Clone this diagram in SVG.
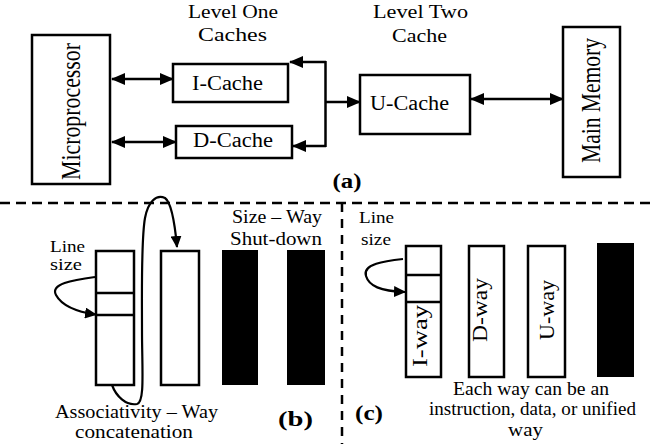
<svg xmlns="http://www.w3.org/2000/svg" width="650" height="444" viewBox="0 0 650 444">
  <defs>
    <marker id="ah" markerUnits="userSpaceOnUse" markerWidth="14" markerHeight="12" viewBox="0 0 14 12" refX="13" refY="6" orient="auto-start-reverse">
      <path d="M0,0 L14,6 L0,12 Z" fill="#000"/>
    </marker>
    <marker id="ahs" markerUnits="userSpaceOnUse" markerWidth="12" markerHeight="11" viewBox="0 0 12 11" refX="11" refY="5.5" orient="auto">
      <path d="M0,0 L12,5.5 L0,11 Z" fill="#000"/>
    </marker>
  </defs>
  <style>
    .box { fill: #fff; stroke: #000; stroke-width: 2.5; }
    .way { fill: #fff; stroke: #000; stroke-width: 2.5; }
    .off { fill: #000; stroke: none; }
    .wire { fill: none; stroke: #000; stroke-width: 2.5; }
    .curve { fill: none; stroke: #000; stroke-width: 2.2; }
    .dash { fill: none; stroke: #000; stroke-width: 2.5; stroke-dasharray: 10 6; }
    text { fill: #000; text-anchor: middle; }
    .t17 { font-size: 17px; }
    .t18 { font-size: 18px; }
    .t19 { font-size: 19px; }
    .t20 { font-size: 20px; }
    .big { font-size: 28px; }
    .lbl { font-size: 20px; font-weight: bold; }
  </style>

  <rect width="650" height="444" fill="#fff"/>

  <g font-family="'Liberation Serif', 'Times New Roman', Tinos, Times, serif">
  <!-- headings for panel (a) -->
  <g id="heading-l1">
    <text class="t18" x="233" y="18" textLength="90" lengthAdjust="spacingAndGlyphs">Level One</text>
    <text class="t18" x="232.5" y="41" textLength="69" lengthAdjust="spacingAndGlyphs">Caches</text>
  </g>
  <g id="heading-l2">
    <text class="t18" x="420.5" y="18" textLength="95" lengthAdjust="spacingAndGlyphs">Level Two</text>
    <text class="t18" x="419.5" y="42" textLength="55" lengthAdjust="spacingAndGlyphs">Cache</text>
  </g>

  <!-- panel (a) nodes -->
  <g id="microprocessor">
    <rect class="box" x="32" y="35" width="78" height="149"/>
    <text class="big" transform="translate(80,111.5) rotate(-90)" textLength="137" lengthAdjust="spacingAndGlyphs">Microprocessor</text>
  </g>
  <g id="i-cache">
    <rect class="box" x="173" y="64" width="115" height="38"/>
    <text class="t20" x="227.5" y="90" textLength="71" lengthAdjust="spacingAndGlyphs">I-Cache</text>
  </g>
  <g id="d-cache">
    <rect class="box" x="176" y="126" width="116" height="32"/>
    <text class="t20" x="233" y="147" textLength="80" lengthAdjust="spacingAndGlyphs">D-Cache</text>
  </g>
  <g id="u-cache">
    <rect class="box" x="360" y="75" width="110" height="59"/>
    <text class="t20" x="409.5" y="110" textLength="79" lengthAdjust="spacingAndGlyphs">U-Cache</text>
  </g>
  <g id="main-memory">
    <rect class="box" x="563" y="27" width="57" height="150"/>
    <text class="big" transform="translate(600,100.5) rotate(-90)" textLength="125" lengthAdjust="spacingAndGlyphs">Main Memory</text>
  </g>

  <!-- panel (a) connectors -->
  <g id="connectors">
    <line class="wire" x1="112" y1="79" x2="173" y2="79" marker-start="url(#ah)" marker-end="url(#ah)"/>
    <line class="wire" x1="112" y1="142" x2="176" y2="142" marker-start="url(#ah)" marker-end="url(#ah)"/>
    <line class="wire" x1="325.5" y1="61" x2="325.5" y2="147"/>
    <line class="wire" x1="326" y1="62" x2="290" y2="62" marker-end="url(#ah)"/>
    <line class="wire" x1="326" y1="146" x2="293" y2="146" marker-end="url(#ah)"/>
    <line class="wire" x1="325" y1="102" x2="360" y2="102" marker-end="url(#ah)"/>
    <line class="wire" x1="471" y1="99" x2="563" y2="99" marker-start="url(#ah)" marker-end="url(#ah)"/>
  </g>

  <text class="lbl" x="347" y="188" textLength="29" lengthAdjust="spacingAndGlyphs">(a)</text>

  <!-- panel separators -->
  <line class="dash" x1="0" y1="203" x2="650" y2="203"/>
  <line class="dash" x1="342" y1="203" x2="342" y2="444" style="stroke-dasharray: 9 7"/>

  <!-- panel (b): line size and associativity -->
  <g id="b-labels">
    <text class="t17" x="67.5" y="252" textLength="35" lengthAdjust="spacingAndGlyphs">Line</text>
    <text class="t17" x="66" y="270" textLength="32" lengthAdjust="spacingAndGlyphs">size</text>
    <text class="t19" x="277" y="223" textLength="90" lengthAdjust="spacingAndGlyphs">Size – Way</text>
    <text class="t19" x="276" y="245" textLength="92" lengthAdjust="spacingAndGlyphs">Shut-down</text>
    <text class="t19" x="136.5" y="418" textLength="163" lengthAdjust="spacingAndGlyphs">Associativity – Way</text>
    <text class="t19" x="134" y="438" textLength="118" lengthAdjust="spacingAndGlyphs">concatenation</text>
  </g>
  <g id="b-way1">
    <rect class="way" x="96" y="251" width="38" height="134"/>
    <line class="wire" x1="96" y1="293" x2="134" y2="293"/>
    <line class="wire" x1="96" y1="315" x2="134" y2="315"/>
  </g>
  <g id="b-way2">
    <rect class="way" x="161" y="251" width="38" height="134"/>
  </g>
  <g id="b-way3">
    <rect class="off" x="222" y="250" width="36" height="135"/>
  </g>
  <g id="b-way4">
    <rect class="off" x="287" y="250" width="38" height="135"/>
  </g>
  <g id="b-curves">
    <path class="curve" d="M95,277 C72,280 50,284 56,295 C62,306 78,312 96,314.5" marker-end="url(#ahs)"/>
    <path class="curve" d="M112,385 C116,396 126,406 137,404 C145,402 142,370 142,330 C142,290 141,240 145,218 C148,202 156,194 165,198 C172,203 175,225 177,247" marker-end="url(#ahs)"/>
  </g>
  <text class="lbl" x="295.5" y="426" textLength="35" lengthAdjust="spacingAndGlyphs">(b)</text>

  <!-- panel (c): typed ways -->
  <g id="c-labels">
    <text class="t17" x="376.5" y="223" textLength="35" lengthAdjust="spacingAndGlyphs">Line</text>
    <text class="t17" x="376" y="245" textLength="30" lengthAdjust="spacingAndGlyphs">size</text>
    <text class="t19" x="531" y="395" textLength="156" lengthAdjust="spacingAndGlyphs">Each way can be an</text>
    <text class="t19" x="532.5" y="415" textLength="207" lengthAdjust="spacingAndGlyphs">instruction, data, or unified</text>
    <text class="t19" x="525.5" y="436" textLength="35" lengthAdjust="spacingAndGlyphs">way</text>
  </g>
  <g id="c-iway">
    <rect class="way" x="406" y="246" width="35" height="131"/>
    <line class="wire" x1="406" y1="275" x2="441" y2="275"/>
    <line class="wire" x1="406" y1="302" x2="441" y2="302"/>
    <text class="t20" transform="translate(427,336) rotate(-90)" textLength="62" lengthAdjust="spacingAndGlyphs">I-way</text>
  </g>
  <g id="c-dway">
    <rect class="way" x="469" y="246" width="35" height="131"/>
    <text class="t20" transform="translate(487,310) rotate(-90)" textLength="64" lengthAdjust="spacingAndGlyphs">D-way</text>
  </g>
  <g id="c-uway">
    <rect class="way" x="528" y="246" width="37" height="131"/>
    <text class="t20" transform="translate(554,310) rotate(-90)" textLength="60" lengthAdjust="spacingAndGlyphs">U-way</text>
  </g>
  <g id="c-off">
    <rect class="off" x="597" y="243" width="37" height="134"/>
  </g>
  <g id="c-curve">
    <path class="curve" d="M403,259 C385,261 362,264 366,276 C369,286 380,291 405,292" marker-end="url(#ahs)"/>
  </g>
  <text class="lbl" x="369" y="420" textLength="28" lengthAdjust="spacingAndGlyphs">(c)</text>
  </g>
</svg>
